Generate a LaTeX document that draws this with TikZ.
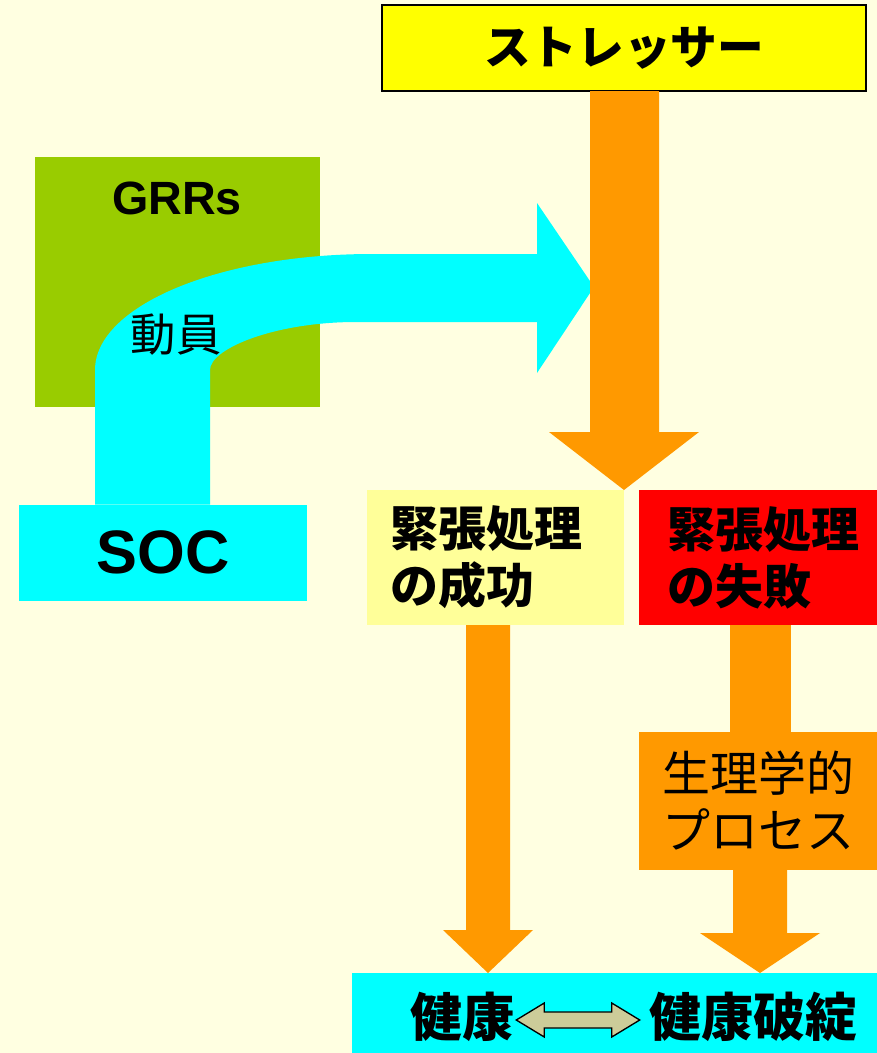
\documentclass[tikz,border=0pt]{standalone}
\usepackage{fontspec}
\newfontfamily\jp{Noto Sans CJK JP}
\newfontfamily\lat{Liberation Sans}
\usetikzlibrary{calc}
\hfuzz=40pt
\definecolor{bgc}{HTML}{FFFFE1}
\definecolor{cyanc}{HTML}{00FFFF}
\definecolor{grnc}{HTML}{99CC00}
\definecolor{orgc}{HTML}{FF9900}
\definecolor{ylwc}{HTML}{FFFF00}
\definecolor{paleyc}{HTML}{FFFF99}
\definecolor{redc}{HTML}{FF0000}
\definecolor{khakic}{HTML}{CCCC99}
\begin{document}
\begin{tikzpicture}[x=0.75pt,y=-0.75pt,
  box/.style={rectangle, inner sep=0pt, outer sep=0pt},
  jpbig/.style={font=\jp\bfseries\fontsize{36}{42.75}\selectfont},
  jpreg/.style={font=\jp\fontsize{36}{42.75}\selectfont},
  leftbox/.style={box, align=left, minimum height=101.25pt},
]
\fill[bgc] (0,0) rectangle (877,1053);
\useasboundingbox (0,0) rectangle (877,1053);

% stressor
\node[box, fill=ylwc, draw=black, line width=1.5pt, minimum width=363pt, minimum height=64.5pt,
      font=\jp\bfseries\fontsize{35}{40}\selectfont] (stress) at (624,48) {ストレッサー};

% GRRs
\node[box, fill=grnc, minimum width=213.75pt, minimum height=187.5pt] (grr) at (177.5,282) {};
\node[font=\lat\bfseries\fontsize{35}{40}\selectfont, inner sep=0pt] (grrl) at (177,198) {GRRs};

% SOC
\node[box, fill=cyanc, minimum width=216pt, minimum height=72pt,
      font=\lat\bfseries\fontsize{46}{50}\selectfont] (soc) at (163,552.5) {SOC};

% cyan curved arrow
\coordinate (ctip) at (594,287);
\fill[cyanc] ($(soc.north)+(-68,0)$) -- (95,370) .. controls (95,306) and (219,254) .. (372,254)
  -- (537,254) -- (537,203) -- (ctip) -- (537,373) -- (537,322) -- (356,322)
  .. controls (275,322) and (210,348.5) .. (210,370) -- ($(soc.north)+(47,0)$) -- cycle;
\node[font=\jp\fontsize{34}{40}\selectfont, inner sep=0pt] (mob) at (176,335) {動員};

% result boxes
\node[leftbox, fill=paleyc, text width=158.25pt, inner xsep=17.25pt, jpbig] (succ) at (495.5,557.5) {緊張処理\\の成功};
\node[leftbox, fill=redc, text width=136.5pt, inner xsep=21pt, jpbig] (fail) at (758,557.5) {緊張処理\\の失敗};

% main orange arrow
\fill[orgc] ($(stress.south)+(-34,0)$) -- ($(stress.south)+(35,0)$) -- ($(stress.south)+(35,341)$)
  -- ($(stress.south)+(75,341)$) -- (succ.north east) -- ($(stress.south)+(-75,341)$)
  -- ($(stress.south)+(-34,341)$) -- cycle;

% bottom box
\node[box, fill=cyanc, minimum width=393.75pt, minimum height=60pt] (bottom) at (614.5,1013) {};

% physiological process box
\node[box, align=left, fill=orgc, minimum height=103.5pt, text width=144pt, inner xsep=17.25pt, jpreg] (phys) at (758,801) {生理学的\\プロセス};

% success arrow
\coordinate (sa) at ($(succ.south)+(-7.5,0)$);
\fill[orgc] ($(succ.south)+(-29.5,0)$) -- ($(succ.south)+(14.5,0)$) -- ($(succ.south)+(14.5,305)$)
  -- ($(succ.south)+(37.5,305)$) -- (sa |- bottom.north) -- ($(succ.south)+(-52.5,305)$)
  -- ($(succ.south)+(-29.5,305)$) -- cycle;

% failure arrows
\fill[orgc] ($(fail.south)+(-28,0)$) rectangle ($(phys.north)+(33,0)$);
\coordinate (fa) at ($(phys.south)+(2,0)$);
\fill[orgc] ($(phys.south)+(-25,0)$) -- ($(phys.south)+(29,0)$) -- ($(phys.south)+(29,63)$)
  -- ($(phys.south)+(62,63)$) -- (fa |- bottom.north) -- ($(phys.south)+(-58,63)$)
  -- ($(phys.south)+(-25,63)$) -- cycle;

% bottom texts
\node[font=\jp\bfseries\fontsize{39}{44}\selectfont, inner sep=0pt] (h1) at (462,1017) {健康};
\node[font=\jp\bfseries\fontsize{39}{44}\selectfont, inner sep=0pt] (h2) at (753,1017) {健康破綻};
\coordinate (L) at ($(h1.east)+(2,3)$);
\coordinate (R) at ($(h2.west)+(-9,3)$);
\draw[fill=khakic, draw=black, line width=1pt, line join=miter]
  (L) -- ($(L)+(28,-17)$) -- ($(L)+(28,-8)$) -- ($(R)+(-28,-8)$) -- ($(R)+(-28,-17)$) -- (R)
  -- ($(R)+(-28,17)$) -- ($(R)+(-28,8)$) -- ($(L)+(28,8)$) -- ($(L)+(28,17)$) -- cycle;
\end{tikzpicture}
\end{document}
